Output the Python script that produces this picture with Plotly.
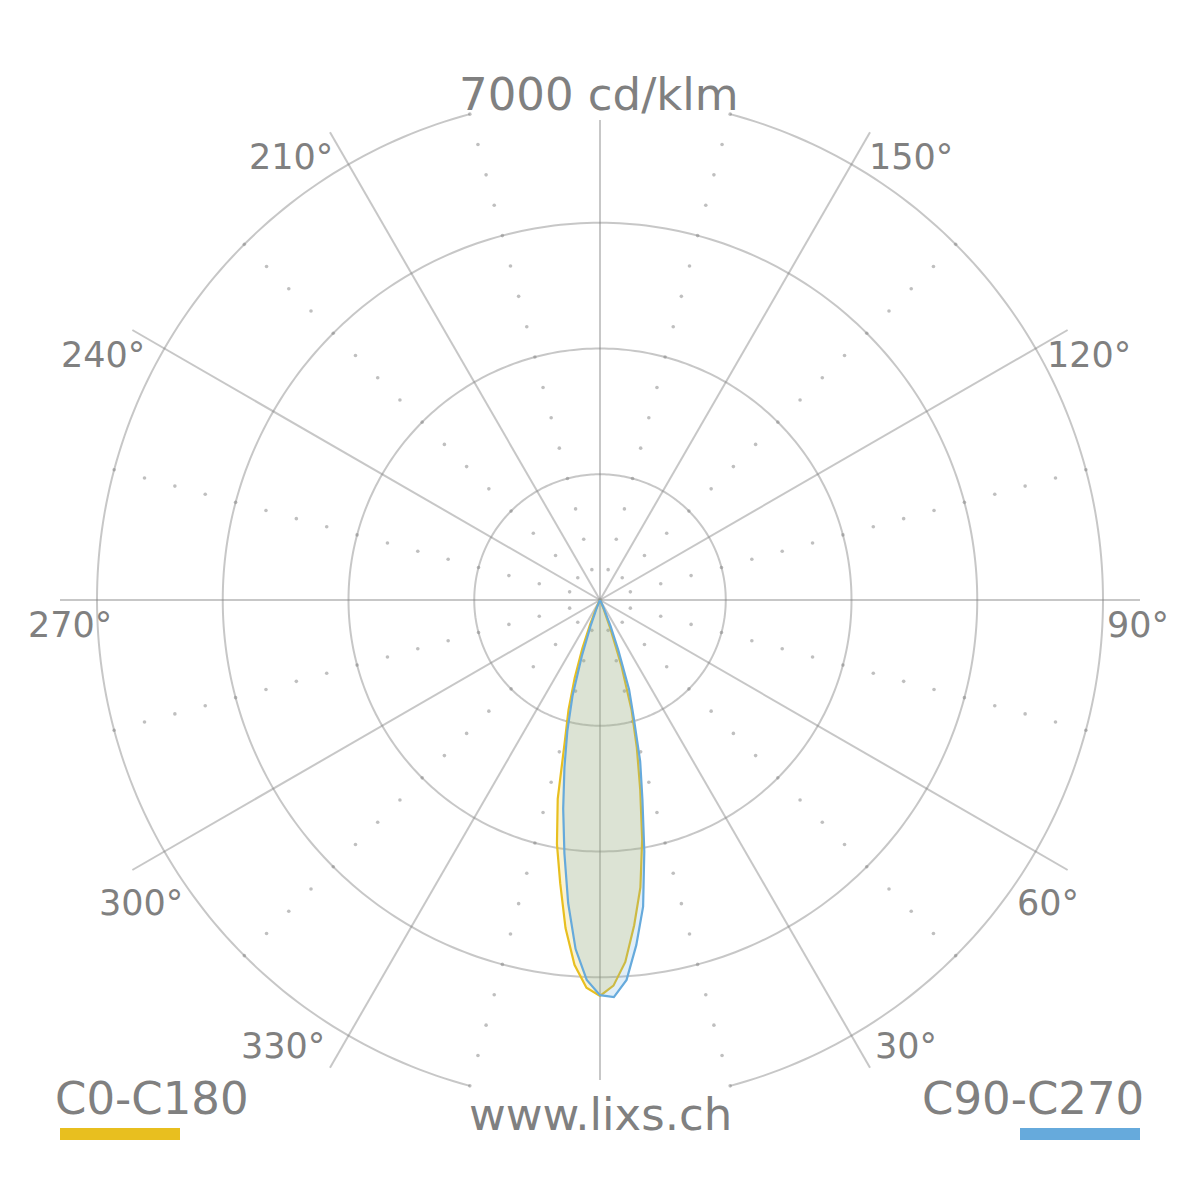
import plotly.graph_objects as go

# ---------------- data (cd/klm) ----------------
GAMMA = [0, 2, 4, 6, 8, 10, 12, 14, 16, 18, 20, 22, 24, 26, 28, 30]
C0 = [5510, 5370, 5050, 4550, 4040, 3380, 2690, 2120, 1600, 970, 420, 140, 40, 0, 0, 0]
C180 = [5510, 5400, 5090, 4590, 3980, 3450, 2830, 2020, 1590, 1140, 720, 360, 140, 40, 0, 0]
C90 = [5500, 5530, 5300, 4830, 4310, 3550, 2840, 2310, 1700, 1310, 750, 390, 140, 40, 0, 0]
C270 = [5500, 5290, 4870, 4240, 3560, 2950, 2380, 1880, 1390, 810, 390, 140, 30, 0, 0, 0]

RING_VALUES = [1750, 3500, 5250, 7000]
SPOKE_ANGLES = [0, 30, 60, 90, 120, 150, 180, 210, 240, 270, 300, 330]
DOT_ANGLES = [15, 45, 75, 105, 135, 165, 195, 225, 255, 285, 315, 345]
DOT_STEP = 437.5
ANGLE_LABELS = ["30°", "60°", "90°", "120°", "150°", "210°", "240°", "270°", "300°", "330°"]
TITLE_TEXT = "7000 cd/klm"
URL_TEXT = "www.lixs.ch"
SERIES_NAMES = ["C0-C180", "C90-C270"]

# ---------------- style / layout ----------------
W = H = 1200
R_MAX = 7000 * 600 / 503.0          # radial range so that the 7000 ring sits at 503 px
SPOKE_LEN = 7000 * 540 / 503.0
SPOKE_LEN_V = 7000 * 480 / 503.0
GRID = "rgba(128,128,128,0.44)"
TXT = "#808080"
YEL = "#e8bf1f"
BLU = "#66aadc"
FONT = "DejaVu Sans"

fig = go.Figure()

# rings
for v in RING_VALUES[:-1]:
    th = list(range(0, 361))
    fig.add_trace(go.Scatterpolar(r=[v] * len(th), theta=th, mode="lines",
                                  line=dict(color=GRID, width=2), hoverinfo="skip",
                                  showlegend=False))
outer = RING_VALUES[-1]
for a0, a1 in [(15, 165), (195, 345)]:
    th = list(range(a0, a1 + 1))
    fig.add_trace(go.Scatterpolar(r=[outer] * len(th), theta=th, mode="lines",
                                  line=dict(color=GRID, width=2), hoverinfo="skip",
                                  showlegend=False))

# spokes
for a in SPOKE_ANGLES:
    L = SPOKE_LEN_V if a in (0, 180) else SPOKE_LEN
    fig.add_trace(go.Scatterpolar(r=[0, L], theta=[a, a], mode="lines",
                                  line=dict(color=GRID, width=2), hoverinfo="skip",
                                  showlegend=False))

# dotted radial lines
dr, dt = [], []
for a in DOT_ANGLES:
    k = 1
    while k * DOT_STEP <= outer + 1:
        dr.append(k * DOT_STEP)
        dt.append(a)
        k += 1
fig.add_trace(go.Scatterpolar(r=dr, theta=dt, mode="markers",
                              marker=dict(color="rgba(128,128,128,0.5)", size=3.6),
                              hoverinfo="skip", showlegend=False))

# photometric curves
def closed(right, left):
    th = [360 - g for g in reversed(GAMMA)] + GAMMA
    rr = list(reversed(left)) + right
    return th, rr

th, rr = closed(C0, C180)
fig.add_trace(go.Scatterpolar(r=rr, theta=th, mode="lines", fill="toself",
                              fillcolor="rgba(232,191,31,0.2)",
                              line=dict(color=YEL, width=2.2), name=SERIES_NAMES[0],
                              showlegend=False))
th, rr = closed(C90, C270)
fig.add_trace(go.Scatterpolar(r=rr, theta=th, mode="lines", fill="toself",
                              fillcolor="rgba(102,170,220,0.2)",
                              line=dict(color=BLU, width=2.2), name=SERIES_NAMES[1],
                              showlegend=False))

# ---------------- text ----------------
def px(x, y):
    return x / W, 1 - y / H

ann = []
def add_text(text, x, y, size, xanchor="center"):
    xx, yy = px(x, y)
    ann.append(dict(text=text, x=xx, y=yy, xref="paper", yref="paper",
                    xanchor=xanchor, yanchor="middle", showarrow=False,
                    font=dict(family=FONT, size=size, color=TXT)))

label_pos = {
    "30°": (906, 1045.5), "60°": (1047.5, 902.5), "90°": (1138, 624.5),
    "120°": (1089, 355), "150°": (911, 156.7), "210°": (291, 156.7),
    "240°": (103.4, 355), "270°": (70, 624.5), "300°": (141, 902.5),
    "330°": (283, 1045.5),
}
for lab in ANGLE_LABELS:
    x, y = label_pos[lab]
    add_text(lab, x, y, 35)

add_text(TITLE_TEXT, 599, 94, 45)
add_text(URL_TEXT, 600.5, 1114, 45)
add_text(SERIES_NAMES[0], 152, 1098, 45)
add_text(SERIES_NAMES[1], 1033, 1098, 45)

shapes = [
    dict(type="rect", xref="paper", yref="paper", x0=60 / W, x1=180 / W,
         y0=1 - 1140 / H, y1=1 - 1128 / H, fillcolor=YEL, line=dict(width=0)),
    dict(type="rect", xref="paper", yref="paper", x0=1020 / W, x1=1140 / W,
         y0=1 - 1140 / H, y1=1 - 1128 / H, fillcolor=BLU, line=dict(width=0)),
]

fig.update_layout(
    width=W, height=H,
    margin=dict(l=0, r=0, t=0, b=0),
    paper_bgcolor="white",
    plot_bgcolor="white",
    showlegend=False,
    annotations=ann,
    shapes=shapes,
    polar=dict(
        domain=dict(x=[0, 1], y=[0, 1]),
        bgcolor="rgba(0,0,0,0)",
        radialaxis=dict(range=[0, R_MAX], visible=False, showgrid=False),
        angularaxis=dict(rotation=270, direction="counterclockwise",
                         showgrid=False, showline=False, showticklabels=False,
                         ticks=""),
    ),
)

fig.write_html("out.html", config={"displayModeBar": False},
               post_script="document.body.style.margin='0';")
